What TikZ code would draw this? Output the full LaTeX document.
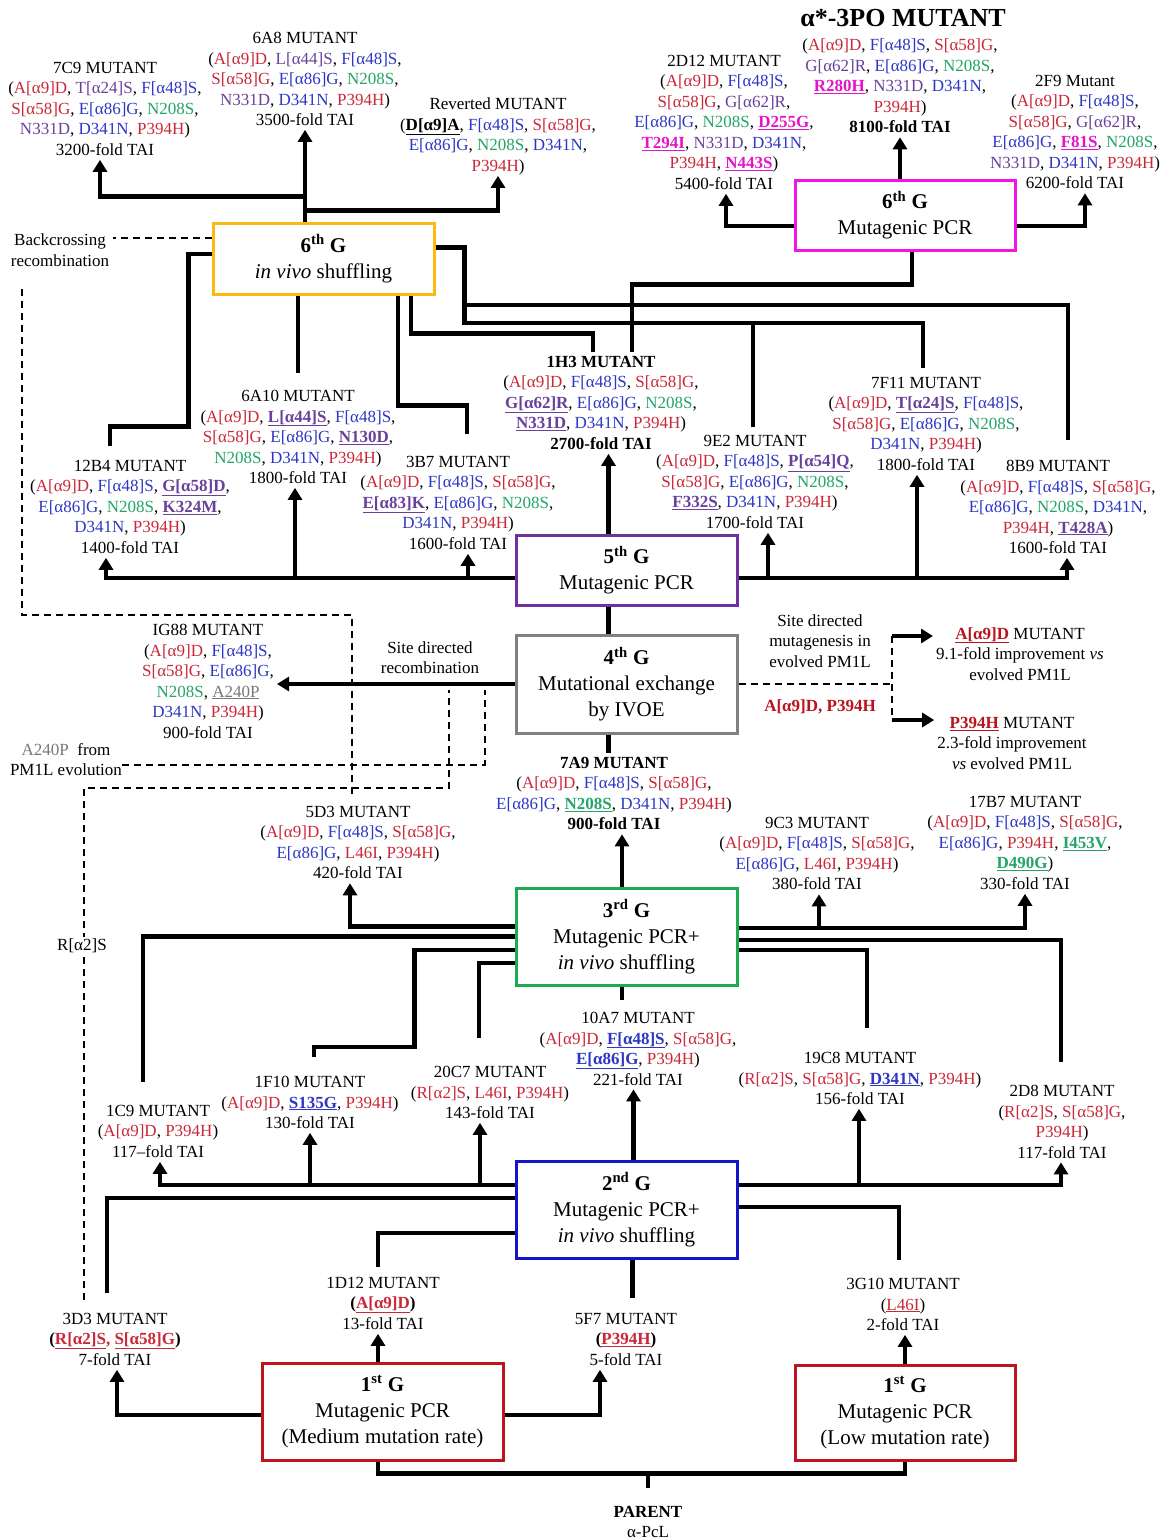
\documentclass[tikz,border=0pt]{standalone}
\usepackage{fontspec}
\setmainfont{Liberation Serif}
\usepackage{xcolor}
\usetikzlibrary{arrows.meta,positioning}

\definecolor{mred}{RGB}{200,40,55}
\definecolor{mblu}{RGB}{45,55,195}
\definecolor{mpur}{RGB}{105,65,155}
\definecolor{mgrn}{RGB}{35,165,105}
\definecolor{mmag}{RGB}{230,20,200}
\definecolor{mgry}{RGB}{120,120,120}
\definecolor{dred}{RGB}{185,20,30}
\definecolor{bxorg}{RGB}{250,185,20}
\definecolor{bxmag}{RGB}{240,20,230}
\definecolor{bxpur}{RGB}{112,48,160}
\definecolor{bxgry}{RGB}{128,128,128}
\definecolor{bxgrn}{RGB}{30,170,80}
\definecolor{bxblu}{RGB}{20,20,200}
\definecolor{bxred}{RGB}{190,20,30}

\newcommand{\cred}[1]{\textcolor{mred}{#1}}
\newcommand{\cblu}[1]{\textcolor{mblu}{#1}}
\newcommand{\cpur}[1]{\textcolor{mpur}{#1}}
\newcommand{\cgrn}[1]{\textcolor{mgrn}{#1}}
\newcommand{\cmag}[1]{\textcolor{mmag}{#1}}
\newcommand{\nw}[1]{\textbf{\underline{#1}}}
\newcommand{\muA}{\cred{A[α9]D}}
\newcommand{\muF}{\cblu{F[α48]S}}
\newcommand{\muS}{\cred{S[α58]G}}
\newcommand{\muE}{\cblu{E[α86]G}}
\newcommand{\muN}{\cgrn{N208S}}
\newcommand{\muNt}{\cpur{N331D}}
\newcommand{\muD}{\cblu{D341N}}
\newcommand{\muP}{\cred{P394H}}
\newcommand{\muG}{\cpur{G[α62]R}}
\newcommand{\mutfont}{\fontsize{17}{20.5}\selectfont}
\newcommand{\boxfont}{\fontsize{21}{26}\selectfont}
\newcommand{\gen}[2]{\textbf{#1\textsuperscript{#2} G}}

\begin{document}
\begin{tikzpicture}[x=1pt, y=-1pt,
  mut/.style={align=center, inner sep=0pt, anchor=north, font=\mutfont,
              yshift=-4pt, execute at begin node=\strut},
  genbox/.style={draw=#1, line width=3pt, align=center, font=\boxfont,
                 inner sep=0pt},
  arr/.style={line width=4.5pt, -{Triangle[length=12pt,width=14pt]}, shorten >=-2pt},
  ln/.style={line width=4.5pt},
  dsh/.style={line width=2pt, dash pattern=on 7pt off 5pt}
]
\useasboundingbox (0,0) rectangle (1167,1539);

\node[genbox=bxorg, minimum width=221pt, minimum height=71pt] (g6v) at (323.5,258.5) {\gen{6}{th}\\\textit{in vivo} shuffling};
\node[genbox=bxmag, minimum width=220pt, minimum height=70pt] (g6m) at (905,215) {\gen{6}{th}\\Mutagenic PCR};
\node[genbox=bxpur, minimum width=221pt, minimum height=70pt] (g5) at (626.5,570) {\gen{5}{th}\\Mutagenic PCR};
\node[genbox=bxgry, minimum width=221pt, minimum height=98pt] (g4) at (626.5,684) {\gen{4}{th}\\Mutational exchange\\by IVOE};
\node[genbox=bxgrn, minimum width=221pt, minimum height=97pt] (g3) at (626.5,936.5) {\gen{3}{rd}\\Mutagenic PCR+\\\textit{in vivo} shuffling};
\node[genbox=bxblu, minimum width=221pt, minimum height=97pt] (g2) at (626.5,1209.5) {\gen{2}{nd}\\Mutagenic PCR+\\\textit{in vivo} shuffling};
\node[genbox=bxred, minimum width=241pt, minimum height=97pt] (g1m) at (382.5,1411.5) {\gen{1}{st}\\Mutagenic PCR\\(Medium mutation rate)};
\node[genbox=bxred, minimum width=220pt, minimum height=95pt] (g1l) at (905,1412.5) {\gen{1}{st}\\Mutagenic PCR\\(Low mutation rate)};

\node[mut] (m7C9) at (105,58) {7C9 MUTANT\\(\muA, \cpur{T[α24]S}, \muF,\\\muS, \muE, \muN,\\\muNt, \muD, \muP)\\3200-fold TAI};
\node[mut] (m6A8) at (305,28) {6A8 MUTANT\\(\muA, \cpur{L[α44]S}, \muF,\\\muS, \muE, \muN,\\\muNt, \muD, \muP)\\3500-fold TAI};
\node[mut] (mRev) at (498,94) {Reverted MUTANT\\(\nw{D[α9]A}, \muF, \muS,\\\muE, \muN, \muD,\\\muP)};
\node[mut] (m2D12) at (724,51) {2D12 MUTANT\\(\muA, \muF,\\\muS, \muG,\\\muE, \muN, \cmag{\nw{D255G}},\\\cmag{\nw{T294I}}, \muNt, \muD,\\\muP, \cmag{\nw{N443S}})\\5400-fold TAI};
\node[inner sep=0pt, font=\fontsize{26}{30}\selectfont\bfseries] (t3PO) at (903,18) {α*-3PO MUTANT};
\node[mut, below=8pt of t3PO, xshift=-3pt] (m3PO) {(\muA, \muF, \muS,\\\muG, \muE, \muN,\\\cmag{\nw{R280H}}, \muNt, \muD,\\\muP)\\\textbf{8100-fold TAI}};
\node[mut] (m2F9) at (1075,71) {2F9 Mutant\\(\muA, \muF,\\\muS, \muG,\\\muE, \cmag{\nw{F81S}}, \muN,\\\muNt, \muD, \muP)\\6200-fold TAI};

\node[mut] (m12B4) at (130,456) {12B4 MUTANT\\(\muA, \muF, \cpur{\nw{G[α58]D}},\\\muE, \muN, \cpur{\nw{K324M}},\\\muD, \muP)\\1400-fold TAI};
\node[mut] (m6A10) at (298,386) {6A10 MUTANT\\(\muA, \cpur{\nw{L[α44]S}}, \muF,\\\muS, \muE, \cpur{\nw{N130D}},\\\muN, \muD, \muP)\\1800-fold TAI};
\node[mut] (m3B7) at (458,452) {3B7 MUTANT\\(\muA, \muF, \muS,\\\cpur{\nw{E[α83]K}}, \muE, \muN,\\\muD, \muP)\\1600-fold TAI};
\node[mut] (m1H3) at (601,352) {\textbf{1H3 MUTANT}\\(\muA, \muF, \muS,\\\cpur{\nw{G[α62]R}}, \muE, \muN,\\\cpur{\nw{N331D}}, \muD, \muP)\\\textbf{2700-fold TAI}};
\node[mut] (m9E2) at (755,431) {9E2 MUTANT\\(\muA, \muF, \cpur{\nw{P[α54]Q}},\\\muS, \muE, \muN,\\\cpur{\nw{F332S}}, \muD, \muP)\\1700-fold TAI};
\node[mut] (m7F11) at (926,373) {7F11 MUTANT\\(\muA, \cpur{\nw{T[α24]S}}, \muF,\\\muS, \muE, \muN,\\\muD, \muP)\\1800-fold TAI};
\node[mut] (m8B9) at (1058,456) {8B9 MUTANT\\(\muA, \muF, \muS,\\\muE, \muN, \muD,\\\muP, \cpur{\nw{T428A}})\\1600-fold TAI};

\node[mut] (mIG88) at (208,620) {IG88 MUTANT\\(\muA, \muF,\\\muS, \muE,\\\muN, \textcolor{mgry}{\underline{A240P}}\\\muD, \muP)\\900-fold TAI};
\node[mut] (mA9D) at (1020,623) {\textcolor{dred}{\nw{A[α9]D}} MUTANT\\9.1-fold improvement \textit{vs}\\evolved PM1L};
\node[mut] (mP394) at (1012,713) {\textcolor{dred}{\nw{P394H}} MUTANT\\2.3-fold improvement\\\textit{vs} evolved PM1L};
\node[mut] (m7A9) at (614,753) {\textbf{7A9 MUTANT}\\(\muA, \muF, \muS,\\\muE, \cgrn{\nw{N208S}}, \muD, \muP)\\\textbf{900-fold TAI}};

\node[mut] (m5D3) at (358,802) {5D3 MUTANT\\(\muA, \muF, \muS,\\\muE, \cred{L46I}, \muP)\\420-fold TAI};
\node[mut] (m9C3) at (817,813) {9C3 MUTANT\\(\muA,\ \muF, \muS,\\\muE,\ \cred{L46I},\ \muP)\\380-fold TAI};
\node[mut] (m17B7) at (1025,792) {17B7 MUTANT\\(\muA,\ \muF, \muS,\\\muE,\ \muP, \cgrn{\nw{I453V}},\\\cgrn{\nw{D490G}})\\330-fold TAI};
\node[mut] (m10A7) at (638,1008) {10A7 MUTANT\\(\muA, \cblu{\nw{F[α48]S}}, \muS,\\\cblu{\nw{E[α86]G}}, \muP)\\221-fold TAI};
\node[mut] (m20C7) at (490,1062) {20C7 MUTANT\\(\cred{R[α2]S}, \cred{L46I}, \muP)\\143-fold TAI};
\node[mut] (m1F10) at (310,1072) {1F10 MUTANT\\(\muA, \cblu{\nw{S135G}}, \muP)\\130-fold TAI};
\node[mut] (m1C9) at (158,1101) {1C9 MUTANT\\(\muA, \muP)\\117–fold TAI};
\node[mut] (m19C8) at (860,1048) {19C8 MUTANT\\(\cred{R[α2]S}, \muS, \cblu{\nw{D341N}}, \muP)\\156-fold TAI};
\node[mut] (m2D8) at (1062,1081) {2D8 MUTANT\\(\cred{R[α2]S}, \muS,\\\muP)\\117-fold TAI};
\node[mut] (m3D3) at (115,1309) {3D3 MUTANT\\\textbf{(}\cred{\nw{R[α2]S}\textbf{,} \nw{S[α58]G}}\textbf{)}\\7-fold TAI};
\node[mut] (m1D12) at (383,1273) {1D12 MUTANT\\\textbf{(}\cred{\nw{A[α9]D}}\textbf{)}\\13-fold TAI};
\node[mut] (m5F7) at (626,1309) {5F7 MUTANT\\\textbf{(}\cred{\nw{P394H}}\textbf{)}\\5-fold TAI};
\node[mut] (m3G10) at (903,1274) {3G10 MUTANT\\(\cred{\underline{L46I}})\\2-fold TAI};
\node[mut] (parent) at (648,1502) {\textbf{PARENT}\\α-PcL};

\node[mut] (backc) at (60,230) {Backcrossing\\recombination};
\node[mut] (sdrec) at (430,637) {Site directed\\recombination};
\node[mut] (sdmut) at (820,610) {Site directed\\mutagenesis in\\evolved PM1L};
\node[mut, font=\mutfont\bfseries, text=dred] (dblmut) at (820,693) {A[α9]D, P394H};
\node[mut] (a240) at (66,739) {\textcolor{mgry}{A240P}\ \ from\\PM1L evolution};

\draw[arr] ([xshift=-18.5pt]g6v.north) -- ([xshift=-18.5pt]g6v.north |- m6A8.south);
\draw[arr] ([xshift=-18.5pt]g6v.north) -- ++(0,-25) -| ([xshift=-5pt]m7C9.south);
\draw[arr] ([xshift=-18.5pt]g6v.north) -- ++(0,-11) -| (mRev.south);
\draw[ln, shorten >=14pt] ([yshift=4.5pt]g6v.west) -| ++(-23,172.5) -| ([xshift=-20pt]m12B4.north);
\draw[ln, shorten >=17pt] ([xshift=-25.5pt]g6v.south) -- (m6A10.north);
\draw[ln, shorten >=22pt] ([xshift=74.5pt]g6v.south) -- ++(0,110) -| ([xshift=9pt]m3B7.north);
\draw[ln, shorten >=4pt] ([xshift=87.5pt]g6v.south) -- ++(0,38) -| ([xshift=-8pt]m1H3.north);
\draw[ln, shorten >=20pt] ([yshift=11pt]g6v.east) -| ++(29,57.5) -| ([xshift=10pt]m8B9.north);
\draw[ln, shorten >=9pt] ([yshift=11pt]g6v.east) -| ++(29,75.5) -| ([xshift=-3pt]m7F11.north);
\draw[ln, shorten >=8pt] ([yshift=11pt]g6v.east) -| ++(29,75.5) -| ([xshift=-2pt]m9E2.north);

\draw[arr] ([xshift=-5pt]g6m.north) -- ([xshift=-5pt]g6m.north |- m3PO.south);
\draw[arr] ([yshift=-11pt]g6m.west) -| ([xshift=2pt]m2D12.south);
\draw[arr] ([yshift=-11pt]g6m.east) -| ([xshift=10pt]m2F9.south);
\draw[ln, shorten >=4pt] ([xshift=7pt]g6m.south) -- ++(0,33) -| ([xshift=31pt]m1H3.north);

\draw[arr] ([xshift=-18pt]g5.north) -- ([xshift=-18pt]g5.north |- m1H3.south);
\foreach \tgt/\sh in {m12B4/-24, m6A10/-3, m3B7/10}
  \draw[arr] ([yshift=-8pt]g5.west) -| ([xshift=\sh pt]\tgt.south);
\foreach \tgt/\sh in {m9E2/13, m7F11/-9, m8B9/9}
  \draw[arr] ([yshift=-8pt]g5.east) -| ([xshift=\sh pt]\tgt.south);

\draw[ln] ([xshift=-18pt]g5.south) -- ([xshift=-18pt]g4.north);
\draw[arr, shorten >=3pt] (g4.west) -- (g4.west -| mIG88.east);
\draw[ln, shorten >=4pt] ([xshift=-18pt]g4.south) -- ([xshift=-18pt]g4.south |- m7A9.north);
\draw[dsh] (g4.east) -- ++(153,0) coordinate (split);
\draw[dsh] ([yshift=48pt]split) -- ([yshift=-36pt]split);
\draw[arr, shorten >=3pt] ([yshift=48pt]split) -- ([yshift=48pt]split -| mA9D.west);
\draw[arr, shorten >=3pt] ([yshift=-36pt]split) -- ([yshift=-36pt]split -| mP394.west);

\draw[arr] ([xshift=-4.5pt]g3.north) -- ([xshift=-4.5pt]g3.north |- m7A9.south);
\draw[arr] ([yshift=10pt]g3.west) -| ([xshift=-8pt]m5D3.south);
\draw[ln, shorten >=23pt] (g3.west) -| ([xshift=-15pt]m1C9.north);
\draw[ln, shorten >=19pt] ([yshift=-13.5pt]g3.west) -| ++(-100,97) -| ([xshift=4pt]m1F10.north);
\draw[ln, shorten >=28pt] ([yshift=-26.5pt]g3.west) -| ([xshift=-11pt]m20C7.north);
\draw[arr] ([yshift=8.5pt]g3.east) -| ([xshift=2pt]m9C3.south);
\draw[arr] ([yshift=8.5pt]g3.east) -| (m17B7.south);
\draw[ln, shorten >=23pt] ([yshift=-3.5pt]g3.east) -| ([xshift=-1pt]m2D8.north);
\draw[ln, shorten >=24pt] ([yshift=-13.5pt]g3.east) -| ([xshift=7pt]m19C8.north);
\draw[ln, shorten >=12pt] ([xshift=-4.5pt]g3.south) -- ([xshift=-4.5pt]g3.south |- m10A7.north);

\draw[arr] ([xshift=7pt]g2.north) -- ([xshift=7pt]g2.north |- m10A7.south);
\foreach \tgt/\sh in {m1C9/2, m1F10/0, m20C7/-10}
  \draw[arr] ([yshift=24.5pt]g2.west) -| ([xshift=\sh pt]\tgt.south);
\foreach \tgt/\sh in {m19C8/-1, m2D8/-1}
  \draw[arr] ([yshift=24.5pt]g2.east) -| ([xshift=\sh pt]\tgt.south);
\draw[ln, shorten >=20pt] ([yshift=11.5pt]g2.west) -| ([xshift=-8pt]m3D3.north);
\draw[ln, shorten >=10pt] ([yshift=-23.5pt]g2.west) -| ([xshift=-5pt]m1D12.north);
\draw[ln, shorten >=18pt] ([yshift=2.5pt]g2.east) -| ([xshift=-4pt]m3G10.north);
\draw[ln, shorten >=15pt] ([xshift=6pt]g2.south) -- ([xshift=6pt]g2.south |- m5F7.north);

\draw[arr] ([yshift=-3.5pt]g1m.west) -| ([xshift=2pt]m3D3.south);
\draw[arr] ([xshift=-4.5pt]g1m.north) -- ([xshift=-4.5pt]g1m.north |- m1D12.south);
\draw[arr] ([yshift=-3.5pt]g1m.east) -| ([xshift=-26pt]m5F7.south);
\draw[arr] (g1l.north) -- (g1l.north |- m3G10.south);
\draw[ln] ([xshift=-4.5pt]g1m.south) -- ++(0,12) coordinate (jn) -| (g1l.south);
\draw[ln, shorten <=18pt] (parent.north) -- (parent.north |- jn);

\draw[dsh, shorten >=4pt] ([yshift=20.5pt]g6v.west) -- ([yshift=20.5pt]g6v.west -| backc.east);
\draw[dsh, shorten >=10pt] ([xshift=-38pt,yshift=-16pt]backc.south) -- ++(0,326) -| ([xshift=-6pt]m5D3.north);
\draw[dsh, shorten >=6pt] ([yshift=-2pt]a240.east) -| ([xshift=-30pt]g4.west);
\draw[dsh, shorten <=13pt, shorten >=6pt] ([xshift=-31pt]m3D3.north) -- ++(0,-525) -| ([xshift=-66pt]g4.west);
\node[fill=white, inner sep=2pt, font=\mutfont] (ra2s) at (82,946) {R[α2]S};
\end{tikzpicture}
\end{document}
